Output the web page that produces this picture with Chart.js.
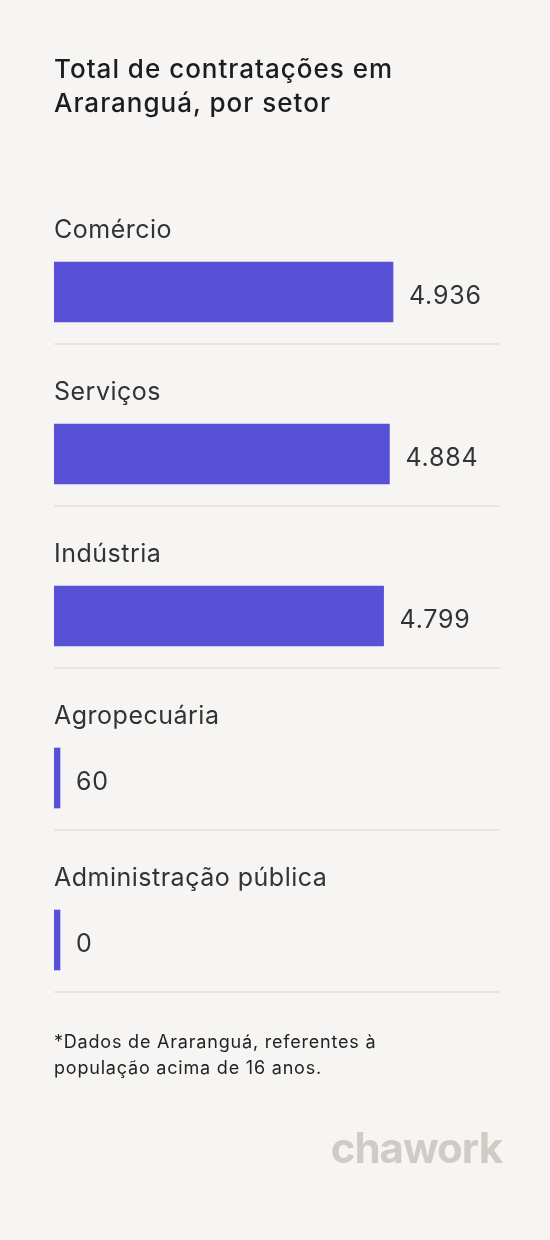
<!DOCTYPE html>
<html>
<head>
<meta charset="utf-8">
<script src="https://cdn.jsdelivr.net/npm/chart.js@4"></script>
<style>
  html, body { margin: 0; padding: 0; background: #f6f5f3; }
  body { width: 550px; height: 1240px; position: relative; overflow: hidden; font-family: Inter, "Noto Sans", sans-serif; }
  #chart { position: absolute; left: 0; top: 0; }
  .titulo { position: absolute; left: 54px; top: 52px; font-size: 26px; line-height: 34px; color: #1d1d1d; font-weight: 500; letter-spacing: 1px; }
  .nota { position: absolute; left: 54px; top: 1029px; font-size: 18px; line-height: 26px; color: #222; letter-spacing: 0.8px; }
  .logo { position: absolute; right: 48px; top: 1122px; font-size: 42px; font-weight: 700; color: #cfccc6; letter-spacing: -1px; }
</style>
</head>
<body>
<canvas id="chart" width="550" height="1240"></canvas>
<div class="titulo">Total de contratações em<br>Araranguá, por setor</div>
<div class="nota">*Dados de Araranguá, referentes à<br>população acima de 16 anos.</div>
<div class="logo">chawork</div>
<script>
const setores = ['Comércio', 'Serviços', 'Indústria', 'Agropecuária', 'Administração pública'];
const contratacoes = [4936, 4884, 4799, 60, 0];
const escalaMax = 6494;

const rotulosPlugin = {
    id: 'rotulos',
    afterDatasetsDraw(chart) {
        const ctx = chart.ctx;
        const meta = chart.getDatasetMeta(0);
        const area = chart.chartArea;
        ctx.save();
        meta.data.forEach((bar, i) => {
            ctx.fillStyle = '#333';
            ctx.font = '25px Inter, sans-serif';
            ctx.letterSpacing = '0.5px';
            ctx.textBaseline = 'middle';
            ctx.textAlign = 'left';
            // nome do setor acima da barra
            ctx.fillText(setores[i], area.left, bar.y - 62);
            // valor ao lado da barra
            ctx.letterSpacing = '0.8px';
            ctx.fillText(contratacoes[i].toLocaleString('pt-BR'), bar.x + 16, bar.y + 4);
            // linha separadora
            ctx.strokeStyle = '#e2e0dc';
            ctx.lineWidth = 1.5;
            ctx.beginPath();
            ctx.moveTo(area.left, bar.y + 52);
            ctx.lineTo(area.right, bar.y + 52);
            ctx.stroke();
        });
        ctx.restore();
    }
};

new Chart(document.getElementById('chart'), {
    type: 'bar',
    data: {
        labels: setores,
        datasets: [{
            data: contratacoes,
            backgroundColor: '#5850d6',
            barThickness: 60,
            minBarLength: 6,
            borderSkipped: false
        }]
    },
    options: {
        indexAxis: 'y',
        responsive: false,
        animation: false,
        layout: { padding: { top: 211, bottom: 219, left: 54, right: 50 } },
        scales: {
            x: { display: false, min: 0, max: escalaMax },
            y: { display: false }
        },
        plugins: { legend: { display: false }, tooltip: { enabled: false } }
    },
    plugins: [rotulosPlugin]
});
</script>
</body>
</html>
